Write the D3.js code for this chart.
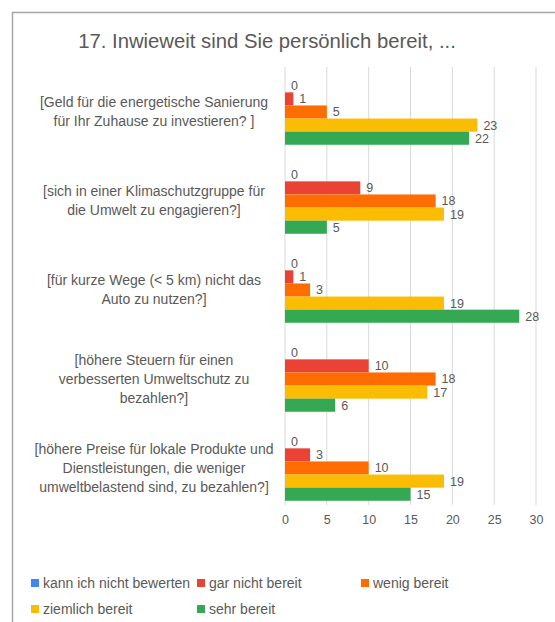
<!DOCTYPE html>
<html><head><meta charset="utf-8">
<script src="https://cdn.jsdelivr.net/npm/d3@7/dist/d3.min.js"></script>
<style>
body{margin:0;background:#fff;}
text{font-family:"Liberation Sans",Arial,sans-serif;fill:#595959;}
</style></head>
<body><svg id="c" width="555" height="622"></svg>
<script>
const title = "17. Inwieweit sind Sie persönlich bereit, ...";
const categories = [
  ["[Geld für die energetische Sanierung","für Ihr Zuhause zu investieren? ]"],
  ["[sich in einer Klimaschutzgruppe für","die Umwelt zu engagieren?]"],
  ["[für kurze Wege (< 5 km) nicht das","Auto zu nutzen?]"],
  ["[höhere Steuern für einen","verbesserten Umweltschutz zu","bezahlen?]"],
  ["[höhere Preise für lokale Produkte und","Dienstleistungen, die weniger","umweltbelastend sind, zu bezahlen?]"]
];
const seriesNames = ["kann ich nicht bewerten","gar nicht bereit","wenig bereit","ziemlich bereit","sehr bereit"];
const seriesColors = ["#4285F4","#EA4335","#FF6D01","#FBBC04","#34A853"];
const kannNicht = [0,0,0,0,0];
const garNicht  = [1,9,1,10,3];
const wenig     = [5,18,3,18,10];
const ziemlich  = [23,19,19,17,19];
const sehr      = [22,5,28,6,15];
const seriesValues = [kannNicht,garNicht,wenig,ziemlich,sehr];
const xTicks = [0,5,10,15,20,25,30];

const svg = d3.select("#c");
// frame
svg.append("rect").attr("x",12.5).attr("y",12.5).attr("width",560).attr("height",640)
  .attr("fill","none").attr("stroke","#a6a6a6").attr("stroke-width",1.5);

svg.append("text").attr("x",267).attr("y",48).attr("text-anchor","middle")
  .style("font-size","20.3px").text(title);

const x = d3.scaleLinear().domain([0,30]).range([285,536]);
const y0 = d3.scaleBand().domain(d3.range(categories.length)).range([67.5,512.5])
  .paddingInner(0.264).paddingOuter(0.132);
const y1 = d3.scaleBand().domain(d3.range(seriesNames.length)).range([0,y0.bandwidth()]);

// grid
svg.append("g").selectAll("line").data(xTicks).join("line")
  .attr("x1",d=>x(d)).attr("x2",d=>x(d)).attr("y1",67).attr("y2",505)
  .attr("stroke","#d9d9d9").attr("stroke-width",1);

// axis labels
const ax = svg.append("g").attr("transform","translate(0,505)")
  .call(d3.axisBottom(x).tickValues(xTicks).tickSize(0).tickPadding(10));
ax.select(".domain").remove();
ax.selectAll("text").style("font-size","12.5px").style("fill","#595959")
  .style("font-family","Liberation Sans, Arial, sans-serif");

// bars
const groups = svg.append("g").selectAll("g").data(categories).join("g")
  .attr("transform",(d,i)=>`translate(0,${y0(i)})`);
groups.each(function(c,i){
  const g = d3.select(this);
  const vals = seriesValues.map((s,j)=>({v:s[i],j}));
  g.selectAll("rect").data(vals).join("rect")
    .attr("x",x(0)).attr("y",d=>y1(d.j)).attr("height",y1.bandwidth())
    .attr("width",d=>x(d.v)-x(0)).attr("fill",d=>seriesColors[d.j]);
  g.selectAll("text.v").data(vals).join("text").attr("class","v")
    .attr("x",d=>x(d.v)+6).attr("y",d=>y1(d.j)+y1.bandwidth()/2+4.5)
    .style("font-size","12.5px").text(d=>d.v);
  const lines = c;
  const cy = y0.bandwidth()/2;
  const t = g.append("text").attr("text-anchor","middle").style("font-size","14px");
  lines.forEach((ln,k)=>{
    t.append("tspan").attr("x",154).attr("y",cy + (k-(lines.length-1)/2)*19 + 5).text(ln);
  });
});

// legend
const legPos = [[31,583],[197,583],[361,583],[31,609],[197,609]];
const lg = svg.append("g").selectAll("g").data(seriesNames).join("g")
  .attr("transform",(d,i)=>`translate(${legPos[i][0]},${legPos[i][1]})`);
lg.append("rect").attr("x",0).attr("y",-4).attr("width",8).attr("height",8)
  .attr("fill",(d,i)=>seriesColors[i]);
lg.append("text").attr("x",12).attr("y",5).style("font-size","14px").text(d=>d);
</script></body></html>
